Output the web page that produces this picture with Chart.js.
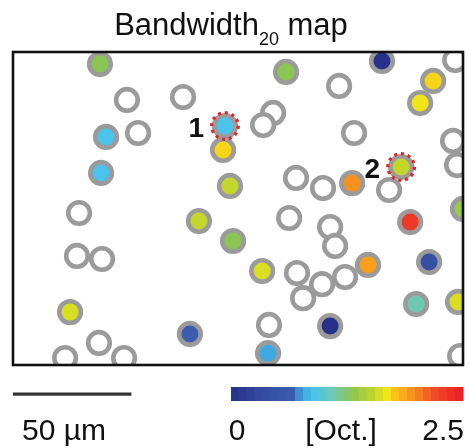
<!DOCTYPE html>
<html>
<head>
<meta charset="utf-8">
<script src="https://cdn.jsdelivr.net/npm/chart.js@4.4.1/dist/chart.umd.min.js"></script>
<style>
  body { margin: 0; background: #fff; }
  canvas { display: block; }
</style>
</head>
<body>
<canvas id="bwMap" width="469" height="448"></canvas>
<script>
// cell positions in µm (x from left edge, y from top edge of the field)
const tunedX = [36.7, 89.5, 39.3, 37.2, 88.7, 91.6, 78.5, 92.9, 115.3, 155.8, 177.4, 171.9, 163.9,
                143.2, 167.7, 105.2, 149.9, 175.7, 170.2, 187.9, 133.9, 107.7, 190.0, 24.1, 74.7];
const tunedY = [5.1, 31.2, 35.8, 51.0, 41.3, 56.5, 71.3, 79.7, 8.4, 3.8, 12.2, 21.5, 48.5,
                55.3, 71.7, 92.4, 89.8, 88.6, 106.3, 105.4, 115.6, 127.0, 66.2, 109.7, 118.9];
// bandwidth at 20 dB above threshold, octaves
const bandwidth = [1.3, 0.9, 0.9, 0.9, 1.72, 1.55, 1.55, 1.3, 1.3, 0.02, 1.72, 1.68, 1.55,
                   1.95, 2.33, 1.61, 1.9, 0.4, 1.1, 1.61, 0.02, 0.75, 1.35, 1.61, 0.68];

// cells without a measurable bandwidth
const untunedX = [48.1, 71.8, 52.8, 109.8, 105.6, 137.7, 186.7, 144.0, 185.8, 187.5, 119.5, 130.9, 158.8, 116.6,
                  133.9, 136.0, 27.9, 27.0, 37.6, 119.9, 140.2, 130.5, 122.5, 108.1, 36.3, 22.0, 46.9, 188.8];
const untunedY = [20.2, 19.0, 34.2, 25.7, 30.8, 14.3, 3.4, 34.2, 37.5, 47.7, 53.1, 57.4, 58.2, 70.0,
                  73.8, 81.8, 67.9, 86.0, 87.3, 93.2, 94.9, 97.9, 103.8, 115.1, 122.7, 129.1, 129.1, 128.2];

// example cells (index into tuned arrays)
const markedCells = [1, 12];
const markedLabels = ['1', '2'];

const bwMin = 0;
const bwMax = 2.5;
const scaleBarUm = 50;

const jetStops = [
  [0.00, '#262f87'], [0.12, '#334a9e'], [0.28, '#3c5eae'], [0.30, '#40a8e0'],
  [0.36, '#4bc3ea'], [0.44, '#70c9b2'], [0.52, '#8cc652'], [0.62, '#c4d62c'],
  [0.67, '#f0e619'], [0.70, '#fcc814'], [0.78, '#f6921e'], [0.88, '#ef4b28'],
  [1.00, '#ec1c24']
];

function hexToRgb(h) {
  return [parseInt(h.slice(1, 3), 16), parseInt(h.slice(3, 5), 16), parseInt(h.slice(5, 7), 16)];
}

function jet(v) {
  const f = Math.max(0, Math.min(1, (v - bwMin) / (bwMax - bwMin)));
  for (let i = 1; i < jetStops.length; i++) {
    if (f <= jetStops[i][0]) {
      const [f0, c0] = jetStops[i - 1];
      const [f1, c1] = jetStops[i];
      const t = (f - f0) / (f1 - f0);
      const a = hexToRgb(c0), b = hexToRgb(c1);
      const c = a.map((x, k) => Math.round(x + (b[k] - x) * t));
      return `rgb(${c[0]},${c[1]},${c[2]})`;
    }
  }
  return jetStops[jetStops.length - 1][1];
}

const FONT = '"Liberation Sans", Arial, sans-serif';

const decorations = {
  id: 'decorations',
  afterDatasetsDraw(chart) {
    const { ctx, chartArea } = chart;
    const meta = chart.getDatasetMeta(1);

    // dotted red rings + numbers on the example cells
    ctx.save();
    markedCells.forEach((idx, i) => {
      const pt = meta.data[idx];
      ctx.beginPath();
      ctx.arc(pt.x, pt.y, 13.3, 0, Math.PI * 2);
      ctx.setLineDash([3, 3.9]);
      ctx.lineWidth = 3.2;
      ctx.strokeStyle = '#e8202a';
      ctx.stroke();
      ctx.setLineDash([]);
      ctx.fillStyle = '#111';
      ctx.font = 'bold 28px ' + FONT;
      ctx.textAlign = 'right';
      ctx.textBaseline = 'alphabetic';
      ctx.fillText(markedLabels[i], pt.x - 21, pt.y + 11);
    });

    // frame
    ctx.lineWidth = 2.6;
    ctx.strokeStyle = '#111';
    ctx.strokeRect(chartArea.left, chartArea.top, chartArea.right - chartArea.left, chartArea.bottom - chartArea.top);
    ctx.restore();
  },
  afterDraw(chart) {
    const { ctx, scales } = chart;
    ctx.save();
    ctx.fillStyle = '#111';
    ctx.textBaseline = 'alphabetic';

    // title with subscript
    const main = 'Bandwidth', sub = '20', tail = ' map';
    ctx.font = '31px ' + FONT;
    const wMain = ctx.measureText(main).width;
    const wTail = ctx.measureText(tail).width;
    ctx.font = '18px ' + FONT;
    const wSub = ctx.measureText(sub).width;
    let x = 231 - (wMain + wSub + wTail) / 2;
    ctx.textAlign = 'left';
    ctx.font = '31px ' + FONT;
    ctx.fillText(main, x, 35);
    x += wMain;
    ctx.font = '18px ' + FONT;
    ctx.fillText(sub, x, 45);
    x += wSub;
    ctx.font = '31px ' + FONT;
    ctx.fillText(tail, x, 35);

    // scale bar
    const x0 = scales.x.getPixelForValue(0);
    const x50 = scales.x.getPixelForValue(scaleBarUm);
    ctx.fillStyle = '#333';
    ctx.fillRect(x0, 392.5, x50 - x0, 3.2);
    ctx.fillStyle = '#111';
    ctx.font = '30px ' + FONT;
    ctx.textAlign = 'left';
    ctx.fillText(scaleBarUm + ' µm', 22, 440);

    // colour bar
    const cbL = 231, cbR = 463, cbT = 387, cbB = 401;
    const steps = 29;
    const sw = (cbR - cbL) / steps;
    for (let i = 0; i < steps; i++) {
      ctx.fillStyle = jet(bwMin + (i + 0.5) / steps * (bwMax - bwMin));
      ctx.fillRect(cbL + i * sw, cbT, sw + 0.6, cbB - cbT);
    }
    ctx.fillStyle = '#111';
    ctx.font = '30px ' + FONT;
    ctx.textAlign = 'center';
    ctx.fillText(String(bwMin), 237, 440);
    ctx.fillText('[Oct.]', 341, 440);
    ctx.textAlign = 'right';
    ctx.fillText(String(bwMax), 464, 440);
    ctx.restore();
  }
};

const untunedPts = untunedX.map((x, i) => ({ x, y: untunedY[i] }));
const tunedPts = tunedX.map((x, i) => ({ x, y: tunedY[i] }));

new Chart(document.getElementById('bwMap'), {
  type: 'scatter',
  data: {
    datasets: [
      {
        label: 'untuned',
        data: untunedPts,
        backgroundColor: '#fff',
        borderColor: '#9b9b9b',
        borderWidth: 4.6,
        pointRadius: 10.8,
        clip: 0
      },
      {
        label: 'tuned',
        data: tunedPts,
        backgroundColor: bandwidth.map(jet),
        borderColor: '#9b9b9b',
        borderWidth: 4.6,
        pointRadius: 10.8,
        clip: 0
      }
    ]
  },
  options: {
    responsive: false,
    animation: false,
    events: [],
    layout: { autoPadding: false, padding: { left: 13, top: 52, right: 6, bottom: 83 } },
    scales: {
      x: { type: 'linear', min: 0, max: 190, display: false },
      y: { type: 'linear', min: 0, max: 132, reverse: true, display: false }
    },
    plugins: {
      legend: { display: false },
      tooltip: { enabled: false }
    }
  },
  plugins: [decorations]
});
</script>
</body>
</html>
